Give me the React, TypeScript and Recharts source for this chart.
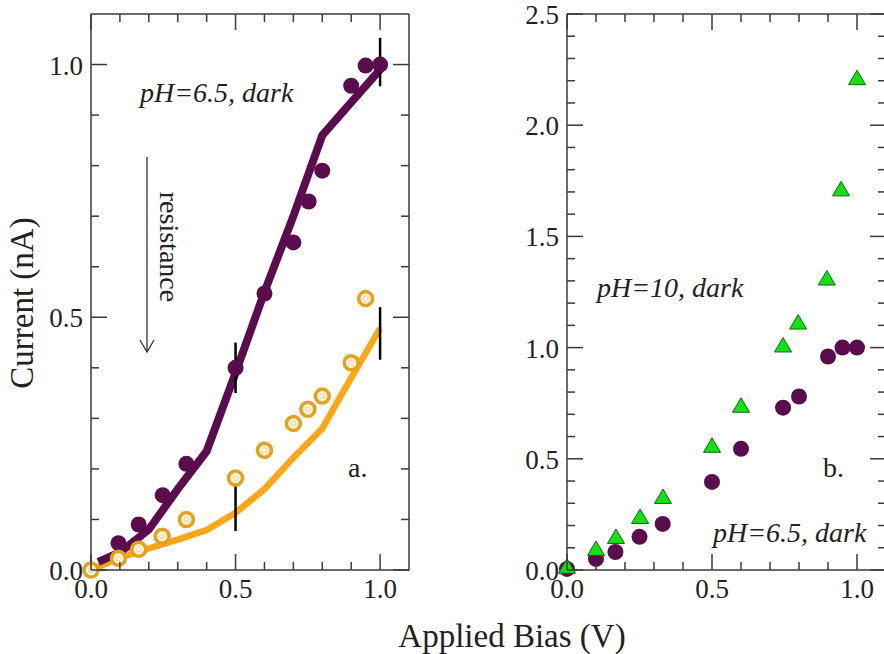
import React from 'react'
import { ComposedChart, Line, Scatter, XAxis, YAxis, ErrorBar } from 'recharts'

const FONT = '"Liberation Serif", "DejaVu Serif", "Times New Roman", serif'
const PURPLE = '#5b0c4c'
const ORANGE = '#ffa615'
const RING = '#e3a11e'
const GREEN = '#14e014'
const INK = '#222'
const FRAME = '#3a3a3a'

// panel a: pH 6.5 dark, measured points and fits
const purpleA = [
  { x: 0, y: 0 }, { x: 0.095, y: 0.053 }, { x: 0.165, y: 0.09 }, { x: 0.248, y: 0.148 },
  { x: 0.33, y: 0.21 }, { x: 0.5, y: 0.4 }, { x: 0.6, y: 0.547 }, { x: 0.7, y: 0.648 },
  { x: 0.753, y: 0.729 }, { x: 0.8, y: 0.79 }, { x: 0.9, y: 0.958 }, { x: 0.95, y: 0.998 },
  { x: 1.0, y: 1.0 },
]
const orangeA = [
  { x: 0, y: 0 }, { x: 0.095, y: 0.023 }, { x: 0.165, y: 0.041 }, { x: 0.246, y: 0.067 },
  { x: 0.33, y: 0.1 }, { x: 0.5, y: 0.182 }, { x: 0.6, y: 0.237 }, { x: 0.7, y: 0.29 },
  { x: 0.75, y: 0.318 }, { x: 0.8, y: 0.344 }, { x: 0.9, y: 0.41 }, { x: 0.95, y: 0.537 },
]
const purpleFit = [
  { x: 0.025, y: 0.016 }, { x: 0.1, y: 0.035 }, { x: 0.2, y: 0.08 }, { x: 0.3, y: 0.16 },
  { x: 0.4, y: 0.235 }, { x: 0.5, y: 0.39 }, { x: 0.6, y: 0.55 }, { x: 0.7, y: 0.7 },
  { x: 0.8, y: 0.86 }, { x: 0.9, y: 0.925 }, { x: 1.0, y: 0.99 },
]
const orangeFit = [
  { x: 0.02, y: 0.005 }, { x: 0.1, y: 0.024 }, { x: 0.2, y: 0.043 }, { x: 0.3, y: 0.06 },
  { x: 0.4, y: 0.079 }, { x: 0.5, y: 0.113 }, { x: 0.6, y: 0.16 }, { x: 0.7, y: 0.222 },
  { x: 0.8, y: 0.28 }, { x: 0.9, y: 0.38 }, { x: 1.0, y: 0.478 },
]
const purpleErr = [{ x: 0.5, y: 0.4, err: 0.05 }, { x: 1.0, y: 1.005, err: 0.048 }]
const orangeErr = [{ x: 0.5, y: 0.125, err: 0.048 }, { x: 1.0, y: 0.468, err: 0.052 }]

// panel b: pH 6.5 vs pH 10
const purpleB = [
  { x: 0, y: 0.005 }, { x: 0.1, y: 0.05 }, { x: 0.167, y: 0.081 }, { x: 0.25, y: 0.149 },
  { x: 0.33, y: 0.207 }, { x: 0.5, y: 0.396 }, { x: 0.6, y: 0.545 }, { x: 0.745, y: 0.73 },
  { x: 0.8, y: 0.78 }, { x: 0.9, y: 0.96 }, { x: 0.95, y: 1.0 }, { x: 1.0, y: 1.0 },
]
const greenB = [
  { x: 0, y: 0.01 }, { x: 0.1, y: 0.09 }, { x: 0.169, y: 0.144 }, { x: 0.252, y: 0.234 },
  { x: 0.331, y: 0.324 }, { x: 0.5, y: 0.554 }, { x: 0.6, y: 0.734 }, { x: 0.745, y: 1.005 },
  { x: 0.797, y: 1.108 }, { x: 0.896, y: 1.306 }, { x: 0.945, y: 1.707 }, { x: 1.0, y: 2.207 },
]

const xTicks = [0, 0.1, 0.2, 0.3, 0.4, 0.5, 0.6, 0.7, 0.8, 0.9, 1.0]
const xMajor = [0, 0.5, 1.0]
const yTicksA = [0, 0.1, 0.2, 0.3, 0.4, 0.5, 0.6, 0.7, 0.8, 0.9, 1.0]
const yMajorA = [0, 0.5, 1.0]
const yTicksB = [
  0, 0.1, 0.2, 0.3, 0.4, 0.5, 0.6, 0.7, 0.8, 0.9, 1.0, 1.1, 1.2, 1.3,
  1.4, 1.5, 1.6, 1.7, 1.8, 1.9, 2.0, 2.1, 2.2, 2.3, 2.4, 2.5,
]
const yMajorB = [0, 0.5, 1.0, 1.5, 2.0, 2.5]

const isMajor = (majors: number[], v: number) => majors.some(m => Math.abs(m - v) < 1e-9)

// ticks point into the plot, labels sit outside
function makeTick(side: 'bottom' | 'top' | 'left' | 'right', majors: number[], labels: boolean) {
  return (props: any) => {
    const { x, y, payload } = props
    const v = payload.value
    const len = isMajor(majors, v) ? 16 : 8
    let x2 = x
    let y2 = y
    if (side === 'bottom') y2 = y - len
    if (side === 'top') y2 = y + len
    if (side === 'left') x2 = x + len
    if (side === 'right') x2 = x - len
    let label = null
    if (labels && isMajor(majors, v)) {
      if (side === 'bottom') {
        label = <text x={x} y={y + 28} textAnchor="middle" fontSize={27} fontFamily={FONT} fill={INK}>{v.toFixed(1)}</text>
      } else if (side === 'left') {
        label = <text x={x - 8} y={y + 10} textAnchor="end" fontSize={27} fontFamily={FONT} fill={INK}>{v.toFixed(1)}</text>
      }
    }
    return (
      <g>
        <line x1={x} y1={y} x2={x2} y2={y2} stroke={FRAME} strokeWidth={1.5} />
        {label}
      </g>
    )
  }
}

const axisLine = { stroke: FRAME, strokeWidth: 1.5 }

const dot = (props: any) => <circle cx={props.cx} cy={props.cy} r={8} fill={PURPLE} />
const ring = (props: any) => (
  <g>
    <circle cx={props.cx} cy={props.cy} r={7} fill="#fdf2da" stroke={RING} strokeWidth={3.5} />
    <circle cx={props.cx} cy={props.cy} r={2.5} fill="none" stroke="#e8b650" strokeWidth={1} strokeDasharray="1 1.2" />
  </g>
)
const tri = (props: any) => {
  const { cx, cy } = props
  return <polygon points={`${cx},${cy - 9} ${cx - 8.5},${cy + 5.5} ${cx + 8.5},${cy + 5.5}`} fill={GREEN} stroke="#0b6b0b" strokeWidth={1} />
}
const none = () => <g />

// four framed axes, each 1px thick so they do not push the plot area
function axes(yDomain: number[], yTicks: number[], yMajor: number[]) {
  return [
    <XAxis key="xb" xAxisId={0} dataKey="x" type="number" domain={[0, 1.1]} ticks={xTicks} interval={0}
      height={1} tickSize={0} tickMargin={0} tickLine={false} axisLine={axisLine} tick={makeTick('bottom', xMajor, true)} />,
    <XAxis key="xt" xAxisId="top" orientation="top" dataKey="x" type="number" domain={[0, 1.1]} allowDataOverflow
      ticks={xTicks} interval={0} height={1} tickSize={0} tickMargin={0} tickLine={false} axisLine={axisLine}
      tick={makeTick('top', xMajor, false)} />,
    <YAxis key="yl" yAxisId={0} dataKey="y" type="number" domain={yDomain} ticks={yTicks} interval={0}
      width={1} tickSize={0} tickMargin={0} tickLine={false} axisLine={axisLine} tick={makeTick('left', yMajor, true)} />,
    <YAxis key="yr" yAxisId="right" orientation="right" dataKey="y" type="number" domain={yDomain} allowDataOverflow
      ticks={yTicks} interval={0} width={1} tickSize={0} tickMargin={0} tickLine={false} axisLine={axisLine}
      tick={makeTick('right', yMajor, false)} />,
  ]
}

export default function App() {
  return (
    <div style={{ position: 'absolute', left: 0, top: 0, width: 884, height: 654, overflow: 'hidden', background: '#fff' }}>
      <div style={{ position: 'absolute', left: 0, top: 0 }}>
        <ComposedChart width={430} height={654} margin={{ top: 13, right: 20, bottom: 83, left: 90 }}>
          {axes([0, 1.1], yTicksA, yMajorA)}
          <Line data={orangeFit} dataKey="y" type="linear" stroke={ORANGE} strokeWidth={6.5} dot={false} isAnimationActive={false} />
          <Line data={purpleFit} dataKey="y" type="linear" stroke={PURPLE} strokeWidth={8} dot={false} isAnimationActive={false} />
          <Scatter data={purpleA} dataKey="y" shape={dot} isAnimationActive={false} />
          <Scatter data={orangeA} dataKey="y" shape={ring} isAnimationActive={false} />
          <Scatter data={purpleErr} dataKey="y" shape={none} isAnimationActive={false}>
            <ErrorBar dataKey="err" direction="y" width={0} stroke="#000" strokeWidth={2.5} />
          </Scatter>
          <Scatter data={orangeErr} dataKey="y" shape={none} isAnimationActive={false}>
            <ErrorBar dataKey="err" direction="y" width={0} stroke="#000" strokeWidth={2.5} />
          </Scatter>
        </ComposedChart>
      </div>
      <div style={{ position: 'absolute', left: 470, top: 0 }}>
        <ComposedChart width={426} height={654} margin={{ top: 13, right: 9, bottom: 83, left: 96 }}>
          {axes([0, 2.5], yTicksB, yMajorB)}
          <Scatter data={purpleB} dataKey="y" shape={dot} isAnimationActive={false} />
          <Scatter data={greenB} dataKey="y" shape={tri} isAnimationActive={false} />
        </ComposedChart>
      </div>
      <svg width={884} height={654} style={{ position: 'absolute', left: 0, top: 0, pointerEvents: 'none' }}>
        <g fontFamily={FONT} fill={INK}>
          <text x={140} y={102} fontSize={28} fontStyle="italic">pH=6.5, dark</text>
          <text x={160} y={247} fontSize={28} textAnchor="middle" transform="rotate(90 160 247)">resistance</text>
          <text x={348} y={477} fontSize={28}>a.</text>
          <text x={823} y={477} fontSize={28}>b.</text>
          <text x={597} y={297} fontSize={28} fontStyle="italic">pH=10, dark</text>
          <text x={713} y={542} fontSize={28} fontStyle="italic">pH=6.5, dark</text>
          <text x={512} y={647} fontSize={33} textAnchor="middle">Applied Bias (V)</text>
          <text x={33} y={303} fontSize={33} textAnchor="middle" transform="rotate(-90 33 303)">Current (nA)</text>
        </g>
        <g stroke={INK} strokeWidth={1.2} fill="none">
          <line x1={147} y1={157} x2={147} y2={352} />
          <polyline points="140,340 147,352 154,340" />
        </g>
      </svg>
    </div>
  )
}
